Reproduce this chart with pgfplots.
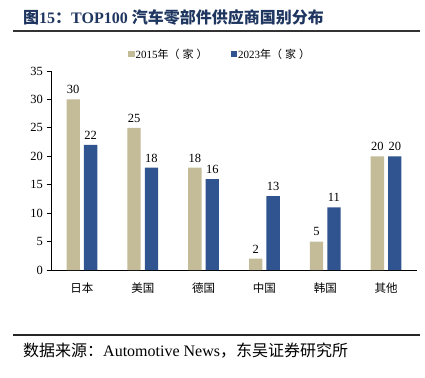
\documentclass[border=0pt]{standalone}
\usepackage{fontspec}
\setmainfont{Liberation Serif}
\newfontfamily\cjk{Noto Sans CJK SC}
\usepackage{pgfplots}
\pgfplotsset{compat=1.18}
\definecolor{tanc}{RGB}{196,187,152}
\definecolor{bluec}{RGB}{47,84,143}
\definecolor{titlec}{RGB}{31,54,96}
\begin{document}
\begin{tikzpicture}
\path[use as bounding box] (0pt,0pt) rectangle (425pt,-377pt);
\node[anchor=west,text=titlec,inner sep=0pt,font=\bfseries\fontsize{16}{18}\selectfont] at (23pt,-17pt) {{\cjk\bfseries 图}15{\cjk\bfseries ：}TOP100 {\cjk\bfseries 汽车零部件供应商国别分布}};
\draw[line width=2pt,black!80] (13pt,-31pt) -- (420pt,-31pt);
\draw[line width=1.2pt,black!85] (13pt,-335pt) -- (420pt,-335pt);
\node[anchor=west,inner sep=0pt,font=\fontsize{16}{18}\selectfont] at (23pt,-351pt) {{\cjk 数据来源：}Automotive News{\cjk ，东吴证券研究所}};
% legend
\fill[tanc] (128pt,-51pt) rectangle (134.5pt,-57.5pt);
\node[anchor=west,font=\fontsize{11}{12}\selectfont,inner sep=0pt] at (135.5pt,-54.5pt) {2015{\cjk 年（\hspace{3pt}家\hspace{3pt}）}};
\fill[bluec] (230.5pt,-51pt) rectangle (237pt,-57.5pt);
\node[anchor=west,font=\fontsize{11}{12}\selectfont,inner sep=0pt] at (238pt,-54.5pt) {2023{\cjk 年（\hspace{3pt}家\hspace{3pt}）}};
\begin{axis}[
  at={(51.5pt,-270pt)}, anchor=south west,
  scale only axis, width=365pt, height=199pt,
  xmin=-0.5, xmax=5.5, ymin=0, ymax=35,
  ytick={0,5,...,35},
  xtick={0,1,2,3,4,5},
  xticklabels={日本,美国,德国,中国,韩国,其他},
  xticklabel style={font=\cjk\fontsize{11.5}{13}\selectfont, yshift=-4pt},
  yticklabel style={font=\fontsize{12.5}{14}\selectfont},
  /pgf/number format/assume math mode=true,
  axis x line*=bottom, axis y line*=left,
  axis line style={black, line width=0.8pt, -},
  tick style={black, line width=0.8pt},
  xtick style={draw=none},
  ytick align=outside, major tick length=5pt,
  ybar, bar width=0.22,
  nodes near coords,
  nodes near coords style={font=\fontsize{12.5}{14}\selectfont, text=black, yshift=2pt},
  clip=false,
]
\addplot[fill=tanc, draw=none, bar shift=-0.143] coordinates {(0,30) (1,25) (2,18) (3,2) (4,5) (5,20)};
\addplot[fill=bluec, draw=none, bar shift=0.143] coordinates {(0,22) (1,18) (2,16) (3,13) (4,11) (5,20)};
\end{axis}
\end{tikzpicture}
\end{document}
